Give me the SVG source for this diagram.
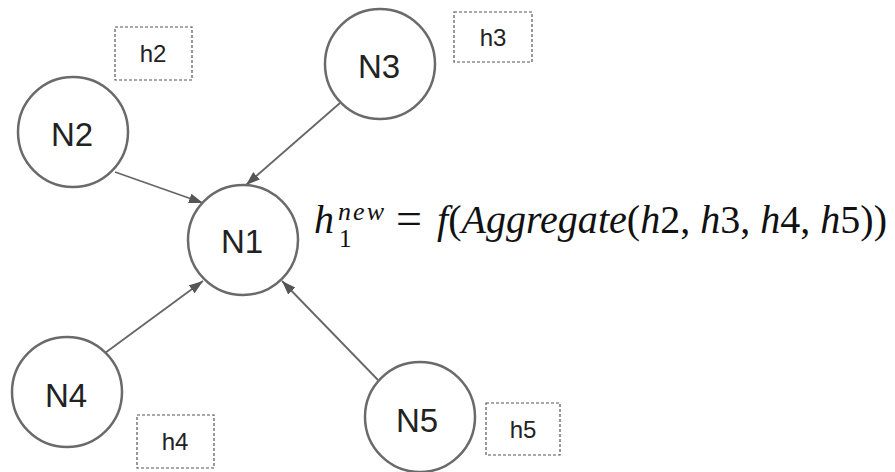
<svg xmlns="http://www.w3.org/2000/svg" width="895" height="472" viewBox="0 0 895 472">
<style>
.node{fill:#fff;stroke:#6a6a6a;stroke-width:2.5}
.lbl{font-family:"Liberation Sans",Arial,sans-serif;font-size:33px;fill:#222;text-anchor:middle}
.hbox{fill:none;stroke:#555;stroke-width:1.2;stroke-dasharray:3 2}
.hl{font-family:"Liberation Sans",Arial,sans-serif;font-size:24px;fill:#222;text-anchor:middle}
.edge{stroke:#666;stroke-width:1.8;fill:none;marker-end:url(#arr)}
.m{font-family:"Liberation Serif","Times New Roman",serif;fill:#111}
.it{font-style:italic}
</style>
<defs>
<marker id="arr" markerUnits="userSpaceOnUse" markerWidth="16" markerHeight="12" refX="14" refY="5.5" orient="auto">
<path d="M0,0.5 L14,5.5 L0,10.5 z" fill="#555"/>
</marker>
</defs>
<rect width="895" height="472" fill="#fff"/>
<g id="connectors">
<line class="edge" x1="115" y1="172" x2="203" y2="203"/>
<line class="edge" x1="340" y1="103" x2="246" y2="185"/>
<line class="edge" x1="105" y1="353" x2="203" y2="281"/>
<line class="edge" x1="378" y1="380" x2="282" y2="281"/>
</g>
<g id="N1"><circle class="node" cx="243" cy="240" r="55"/><text class="lbl" x="242" y="253">N1</text></g>
<g id="N2"><circle class="node" cx="73" cy="132" r="55"/><text class="lbl" x="72" y="146">N2</text></g>
<g id="N3"><circle class="node" cx="380" cy="64" r="55"/><text class="lbl" x="379" y="78">N3</text></g>
<g id="N4"><circle class="node" cx="67" cy="392" r="55"/><text class="lbl" x="66" y="407">N4</text></g>
<g id="N5"><circle class="node" cx="420" cy="417" r="55"/><text class="lbl" x="417" y="432">N5</text></g>
<g id="h2"><rect class="hbox" x="115" y="27" width="77" height="53"/><text class="hl" x="153" y="62">h2</text></g>
<g id="h3"><rect class="hbox" x="454" y="12" width="78" height="50"/><text class="hl" x="493" y="46">h3</text></g>
<g id="h4"><rect class="hbox" x="137" y="415" width="77" height="53"/><text class="hl" x="175" y="450">h4</text></g>
<g id="h5"><rect class="hbox" x="486" y="403" width="74" height="52"/><text class="hl" x="523" y="438">h5</text></g>
<g id="formula">
<text class="m it" x="314" y="233" font-size="40">h</text>
<text class="m it" x="338" y="220" font-size="26" textLength="46" lengthAdjust="spacing">new</text>
<text class="m" x="339" y="247" font-size="25">1</text>
<text class="m" x="396" y="234" font-size="46">=</text>
<text class="m" x="437" y="233" font-size="40" textLength="450" lengthAdjust="spacing"><tspan class="it">f</tspan>(<tspan class="it">Aggregate</tspan>(<tspan class="it">h</tspan>2, <tspan class="it">h</tspan>3, <tspan class="it">h</tspan>4, <tspan class="it">h</tspan>5))</text>
</g>
</svg>
